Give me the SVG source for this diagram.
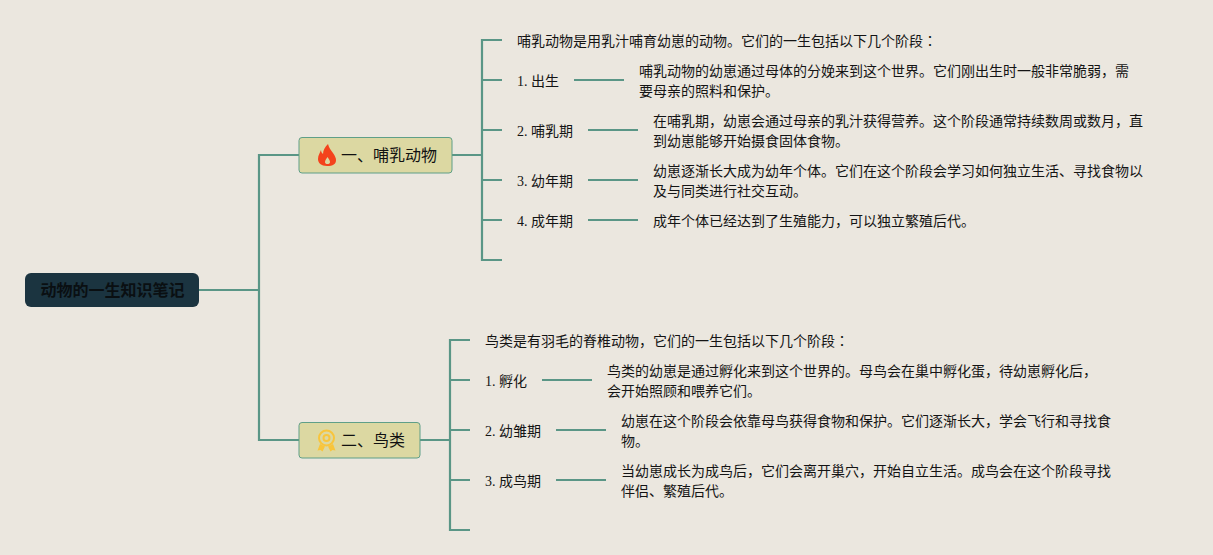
<svg xmlns="http://www.w3.org/2000/svg" width="1213" height="555" viewBox="0 0 1213 555">
<style>
text{font-family:"Liberation Serif","Noto Sans CJK SC",serif;font-size:14px;fill:#141414}
.t{font-family:"Noto Sans CJK SC","Liberation Sans",sans-serif;font-size:16px;fill:#111}
.j{font-family:"Noto Sans CJK JP",sans-serif}
.c path{fill:none;stroke:#5a9686;stroke-width:2.200}
.b{fill:#dcd8a2;stroke:#5f9f88;stroke-width:1}
</style>
<rect width="1213" height="555" fill="#ebe7df"/>
<g id="connectors" class="c">
<path d="M199 290H259M299 155H259V440H299"/>
<path d="M452 155H482M502 40H482V260H502M482 80H502M482 130H502M482 180H502M482 220H502"/>
<path d="M574 80H624M588 130H638M588 180H638M588 220H638"/>
<path d="M420 440H450M470 340H450V530H470M450 380H470M450 430H470M450 480H470"/>
<path d="M542 380H592M556 430H606M556 480H606"/>
</g>
<g id="root"><rect x="25" y="273" width="174" height="34" rx="6" fill="#1b3440"/><text class="t" x="40.500" y="296" style="font-weight:700;fill:#0a0f12">动物的一生知识笔记</text></g>
<g id="n1"><rect class="b" x="299" y="137.500" width="153" height="35.500" rx="3"/>
<path fill-rule="evenodd" d="M328 144c1 4 3 6 5 9 2 3 3 5 3 7 0 4-3 6-9 6-6 0-9-3-9-7 0-4 2-6 3-9 0 2 1 3 2 4 0-4 2-7 5-10zM327.500 157c-1 2-2.500 3-2.500 5 0 1.500 1 2 2.500 2s2.500-.500 2.500-2c0-2-1.500-3-2.500-5z" fill="#f4431c"/>
<text class="t" x="341" y="161">一、哺乳动物</text></g>
<g id="n2"><rect class="b" x="299" y="422.500" width="121" height="35.500" rx="3"/>
<g fill="none" stroke="#f8c53c" stroke-width="2"><circle cx="326.500" cy="438" r="7.500"/><circle cx="326.500" cy="438" r="3"/></g>
<path d="M320 444l-2.500 6.500 3-.500 2 1.500 2.500-5zM333 444l2.500 6.500-3-.500-2 1.500-2.500-5z" fill="#f8c53c"/>
<text class="t" x="341" y="446">二、鸟类</text></g>
<g id="l0"><text x="517" y="46">哺乳动物是用乳汁哺育幼崽的动物。它们的一生包括以下几个阶段<tspan class="j">：</tspan></text></g>
<g id="l1"><text x="517" y="86">1. 出生</text></g>
<g id="l1d"><text x="639" y="76">哺乳动物的幼崽通过母体的分娩来到这个世界。它们刚出生时一般非常脆弱，需</text><text x="639" y="96">要母亲的照料和保护。</text></g>
<g id="l2"><text x="517" y="136">2. 哺乳期</text></g>
<g id="l2d"><text x="653" y="126">在哺乳期，幼崽会通过母亲的乳汁获得营养。这个阶段通常持续数周或数月，直</text><text x="653" y="146">到幼崽能够开始摄食固体食物。</text></g>
<g id="l3"><text x="517" y="186">3. 幼年期</text></g>
<g id="l3d"><text x="653" y="176">幼崽逐渐长大成为幼年个体。它们在这个阶段会学习如何独立生活、寻找食物以</text><text x="653" y="196">及与同类进行社交互动。</text></g>
<g id="l4"><text x="517" y="226">4. 成年期</text></g>
<g id="l4d"><text x="653" y="226">成年个体已经达到了生殖能力，可以独立繁殖后代。</text></g>
<g id="b0"><text x="485" y="346">鸟类是有羽毛的脊椎动物，它们的一生包括以下几个阶段<tspan class="j">：</tspan></text></g>
<g id="b1"><text x="485" y="386">1. 孵化</text></g>
<g id="b1d"><text x="607" y="376">鸟类的幼崽是通过孵化来到这个世界的。母鸟会在巢中孵化蛋，待幼崽孵化后，</text><text x="607" y="396">会开始照顾和喂养它们。</text></g>
<g id="b2"><text x="485" y="436">2. 幼雏期</text></g>
<g id="b2d"><text x="621" y="426">幼崽在这个阶段会依靠母鸟获得食物和保护。它们逐渐长大，学会飞行和寻找食</text><text x="621" y="446">物。</text></g>
<g id="b3"><text x="485" y="486">3. 成鸟期</text></g>
<g id="b3d"><text x="621" y="476">当幼崽成长为成鸟后，它们会离开巢穴，开始自立生活。成鸟会在这个阶段寻找</text><text x="621" y="496">伴侣、繁殖后代。</text></g>
</svg>
